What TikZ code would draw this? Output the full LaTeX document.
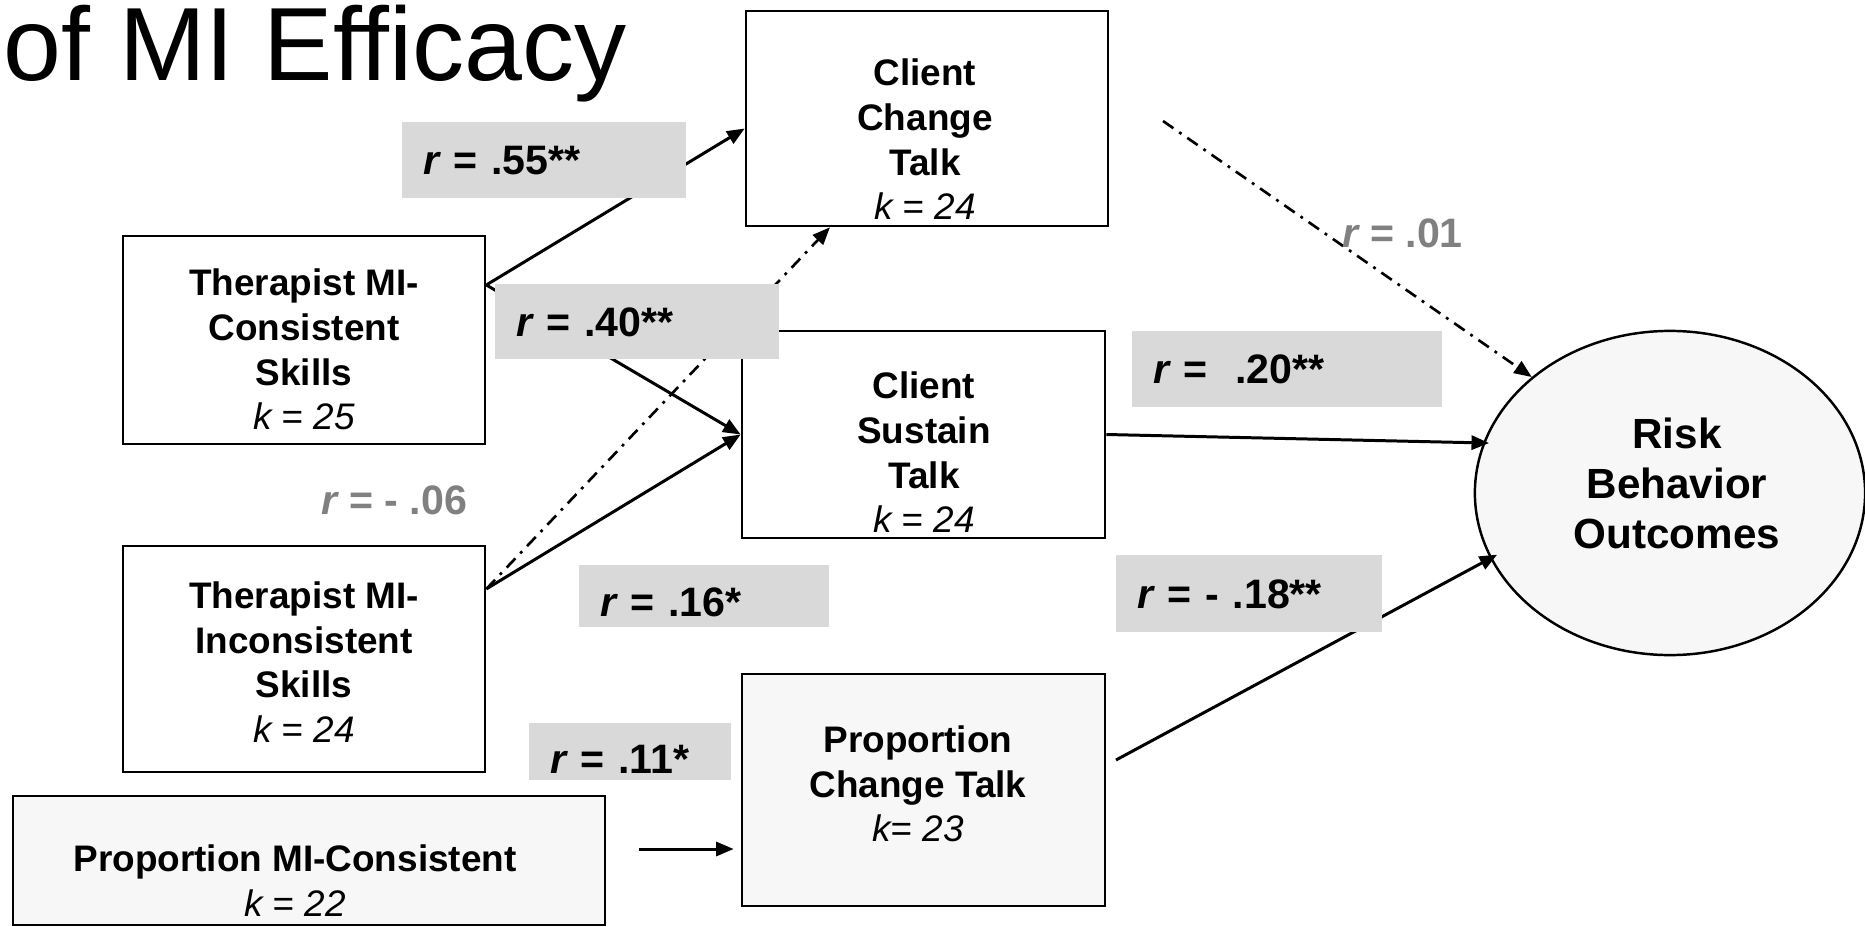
\documentclass[tikz,border=0pt]{standalone}
\usepackage{fontspec}
\setmainfont{Liberation Sans}
\usetikzlibrary{shapes.geometric,arrows.meta}
\definecolor{labelgray}{HTML}{D9D9D9}
\definecolor{nodefill}{HTML}{F7F7F7}
\definecolor{faintgray}{HTML}{808080}

\begin{document}
\begin{tikzpicture}[x=0.01cm, y=-0.01cm,
  >={Triangle[length=5pt,width=4pt]},
  box/.style={draw, line width=0.7pt, inner sep=0pt},
  boxtext/.style={align=center, inner sep=0pt, font=\fontsize{10.5}{12.7}\selectfont\bfseries},
  rlabel/.style={fill=labelgray, inner xsep=0.22cm, inner ysep=0pt, align=left, text height=8.4pt, text depth=0pt, font=\fontsize{11.7}{14}\selectfont\bfseries},
  rfaint/.style={anchor=base west, inner sep=0pt, text=faintgray, font=\fontsize{11.7}{14}\selectfont\bfseries},
  link/.style={->, line width=0.85pt},
  dashlink/.style={->, line width=0.75pt, dash pattern=on 3.6pt off 2pt on 0.8pt off 2pt}]
\useasboundingbox (0,0) rectangle (1865,927);

% Title (cut off at the left)
\node[anchor=base east, inner sep=0pt, font=\fontsize{29.6}{34}\selectfont] (title) at (627,80) {of MI Efficacy};

% Boxes
\node[box, minimum width=3.62cm, minimum height=2.15cm] (cct) at (927,118.5) {};
\node[boxtext] (cct-t) at (925,139.5) {Client\\Change\\Talk\\{\mdseries\itshape k = 24}};

\node[box, minimum width=3.62cm, minimum height=2.08cm] (tmc) at (304,340) {};
\node[boxtext] (tmc-t) at (304,349.5) {Therapist MI-\\Consistent\\Skills\\{\mdseries\itshape k = 25}};

\node[box, minimum width=3.63cm, minimum height=2.07cm] (cst) at (923.5,434.5) {};
\node[boxtext] (cst-t) at (924,452.5) {Client\\Sustain\\Talk\\{\mdseries\itshape k = 24}};

\node[box, minimum width=3.62cm, minimum height=2.26cm] (tmi) at (304,659) {};
\node[boxtext] (tmi-t) at (304,662) {Therapist MI-\\Inconsistent\\Skills\\{\mdseries\itshape k = 24}};

\node[box, fill=nodefill, minimum width=5.92cm, minimum height=1.29cm] (pmc) at (309,860.5) {};
\node[boxtext] (pmc-t) at (295,880.5) {Proportion MI-Consistent\\{\mdseries\itshape k = 22}};

\node[box, fill=nodefill, minimum width=3.63cm, minimum height=2.32cm] (pct) at (923.5,790) {};
\node[boxtext] (pct-t) at (918,784) {Proportion\\Change Talk\\{\mdseries\itshape k= 23}};

% Outcome
\node[box, ellipse, fill=nodefill, minimum width=3.9cm, minimum height=3.24cm] (risk) at (1670,493) {};
\node[boxtext, font=\fontsize{12}{14.2}\selectfont\bfseries] (risk-t) at (1677,483) {Risk\\Behavior\\Outcomes};

% Paths
\draw[link] ([yshift=0.55cm]tmc.east) -- ([yshift=-0.1cm]cct.west);
\draw[link] ([yshift=0.55cm]tmc.east) -- (cst.west);
\draw[link] ([yshift=0.7cm]tmi.east) -- (cst.west);
\draw[dashlink] ([yshift=0.7cm]tmi.east) -- ([xshift=-0.97cm]cct.south);
\coordinate (cctout) at (1163,121);
\draw[dashlink] (cctout) -- (risk.140);
\draw[link, shorten >=-0.06cm] (cst.east) -- (risk.165);
\coordinate (pctout) at (1116,760);
\draw[link, shorten >=-0.08cm] (pctout) -- (risk.200);
\coordinate (pmcout) at (639,849);
\draw[link, shorten >=0.07cm] (pmcout) -- (pmcout -| pct.west);

% Correlations
\node[rlabel, text width=2.40cm, minimum height=0.76cm] (r55) at (544,160) {{\itshape r} = .55**};
\node[rlabel, text width=2.40cm, minimum height=0.75cm] (r40) at (637,321.5) {{\itshape r} = .40**};
\node[rlabel, text width=2.66cm, minimum height=0.76cm] (r20) at (1287,369) {{\itshape r} = \ .20**};
\node[rlabel, text width=2.06cm, minimum height=0.62cm, text height=11.8pt] (r16) at (704,596) {{\itshape r} = .16*};
\node[rlabel, text width=1.58cm, minimum height=0.57cm, text height=12.4pt] (r11) at (630,751.5) {{\itshape r} = .11*};
\node[rlabel, text width=2.22cm, minimum height=0.77cm] (r18) at (1249,593.5) {{\itshape r} = - .18**};
\node[rfaint] (r06) at (321,514) {{\itshape r} = - .06};
\node[rfaint] (r01) at (1342,247) {{\itshape r} = .01};
\end{tikzpicture}
\end{document}
